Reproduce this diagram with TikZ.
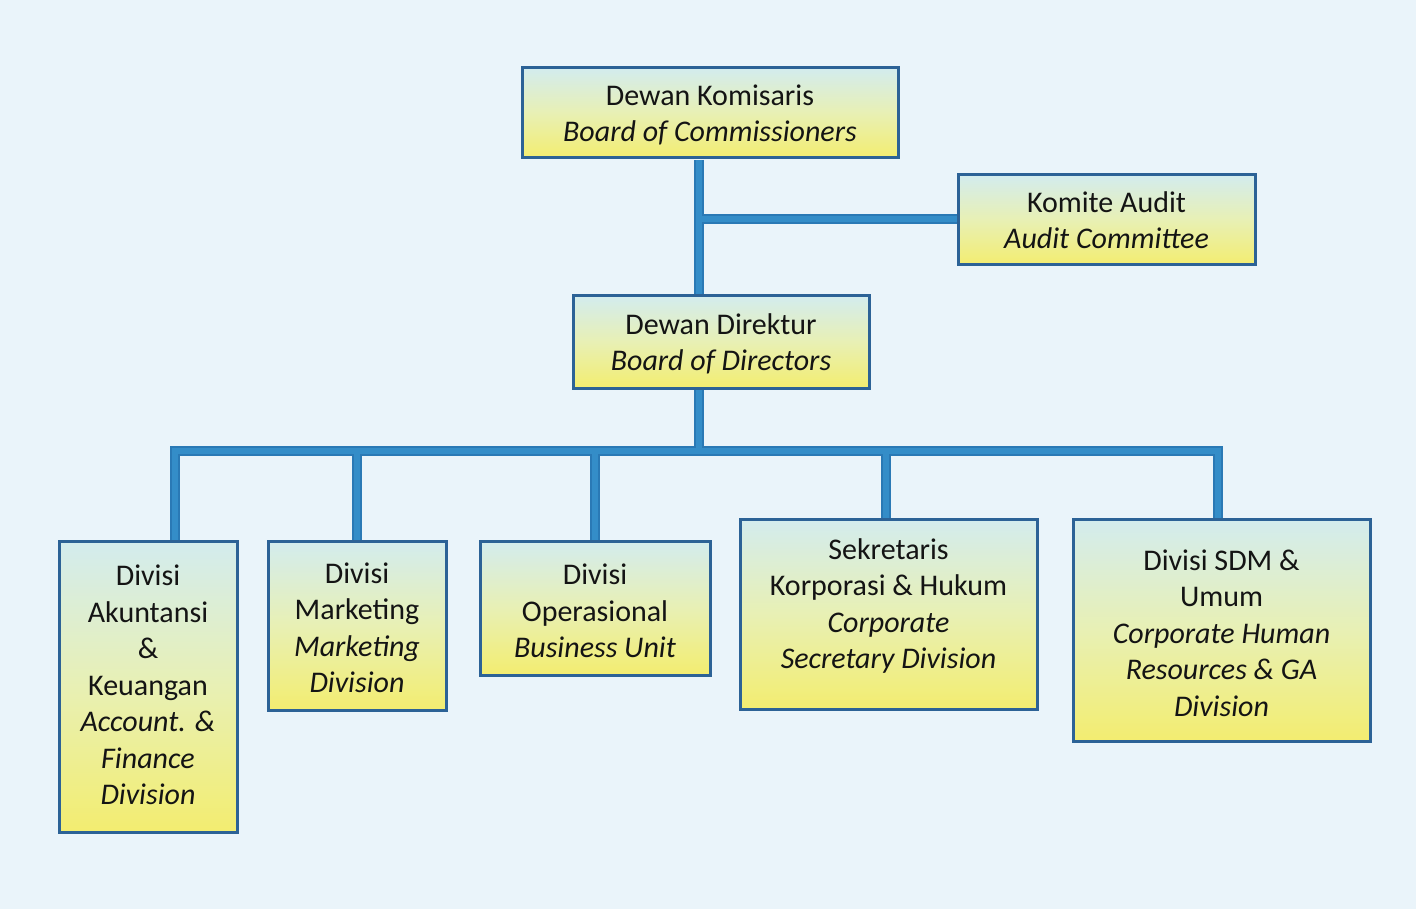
\documentclass[tikz,border=0pt]{standalone}
\usepackage{fontspec}
\setmainfont{Carlito}
\definecolor{bg}{HTML}{EAF4FA}
\definecolor{boxedge}{HTML}{2C6296}
\definecolor{linkblue}{HTML}{348DC8}
\definecolor{linkdark}{HTML}{2A79B5}
\definecolor{boxtop}{HTML}{D3ECEE}
\definecolor{boxmid}{HTML}{E8F0B4}
\definecolor{boxbot}{HTML}{F3ED70}
\definecolor{ink}{HTML}{141414}
\tikzset{
  orgbox/.style={draw=boxedge, line width=3pt, top color=boxtop, bottom color=boxbot, middle color=boxmid,
    align=center, inner sep=0pt, text=ink, font=\fontsize{30}{36.5}\selectfont},
  boxtext/.style={align=center, inner sep=0pt, text=ink, font=\fontsize{30}{36.5}\selectfont},
  link/.style={draw=linkdark, line width=10pt, line join=miter},
  linkin/.style={draw=linkblue, line width=6pt, line join=miter}
}
\begin{document}
\begin{tikzpicture}[x=1pt,y=-1pt]
\fill[bg] (0,0) rectangle (1416,909);
\useasboundingbox (0,0) rectangle (1416,909);
% coordinates for connectors
\coordinate (t) at (699,0);
\coordinate (bus) at (0,451);
\coordinate (dL) at (175,451);
\coordinate (dR) at (1218,451);
% connectors (drawn first, boxes on top)
\foreach \s in {link,linkin}{
  \path[\s] (t |- 0,160) -- (t |- 0,296);
  \path[\s] (t |- 0,219) -- (958,219);
  \path[\s] (t |- 0,388) -- (t |- bus);
  \path[\s] (175,541) -- (dL) -- (dR) -- (1218,519);
  \path[\s] (357,451) -- (357,541);
  \path[\s] (595,451) -- (595,541);
  \path[\s] (886,451) -- (886,519);
}
% boxes
\node[orgbox, minimum width=376pt, minimum height=90pt] (kom) at (710,113) {};
\node[boxtext] (komtext) at (710,115) {Dewan Komisaris\\\textit{Board of Commissioners}};
\node[orgbox, minimum width=297pt, minimum height=90pt] (aud) at (1106.5,220) {Komite Audit\\\textit{Audit Committee}};
\node[orgbox, minimum width=296pt, minimum height=92pt] (dir) at (721,342) {};
\node[boxtext] (dirtext) at (721,344) {Dewan Direktur\\\textit{Board of Directors}};
\node[orgbox, minimum width=178pt, minimum height=291pt] (akun) at (148,686.5) {};
\node[boxtext] (akuntext) at (148,685) {Divisi\\Akuntansi\\\&\\Keuangan\\\textit{Account. \&}\\\textit{Finance}\\\textit{Division}};
\node[orgbox, minimum width=178pt, minimum height=169pt] (mkt) at (357,625.5) {};
\node[boxtext] (mkttext) at (357,628) {Divisi\\Marketing\\\textit{Marketing}\\\textit{Division}};
\node[orgbox, minimum width=230pt, minimum height=134pt] (ops) at (595,608) {};
\node[boxtext] (opstext) at (595,611) {Divisi\\Operasional\\\textit{Business Unit}};
\node[orgbox, minimum width=297pt, minimum height=190pt] (sek) at (888.5,614) {};
\node[boxtext] (sektext) at (888.5,606) {Sekretaris\\Korporasi \& Hukum\\\textit{Corporate}\\\textit{Secretary Division}};
\node[orgbox, minimum width=297pt, minimum height=222pt] (sdm) at (1221.5,630) {};
\node[boxtext] (sdmtext) at (1221.5,633) {Divisi SDM \&\\Umum\\\textit{Corporate Human}\\\textit{Resources \& GA}\\\textit{Division}};
\end{tikzpicture}
\end{document}
